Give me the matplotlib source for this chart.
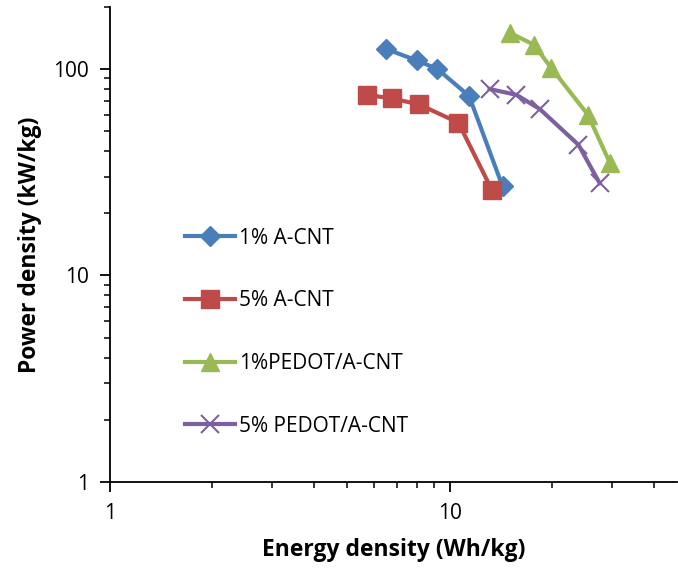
import matplotlib.pyplot as plt
from matplotlib.ticker import LogLocator, NullFormatter, FixedLocator, FixedFormatter

plt.rcParams['font.family'] = ['Open Sans', 'DejaVu Sans']

# Energy density (Wh/kg) and power density (kW/kg)
e_1cnt = [6.5, 8.0, 9.2, 11.4, 14.3]
p_1cnt = [125, 110, 100, 74, 27]

e_5cnt = [5.7, 6.75, 8.1, 10.6, 13.3]
p_5cnt = [75, 72, 67.5, 55, 26]

e_1pedot = [15.0, 17.7, 19.9, 25.5, 29.6]
p_1pedot = [150, 131, 101, 60, 35]

e_5pedot = [13.1, 15.7, 18.4, 23.9, 27.6]
p_5pedot = [80, 75, 64, 43, 28]

fig = plt.figure(figsize=(6.78, 5.73), dpi=100)
ax = fig.add_axes([0.162, 0.159, 0.836, 0.829])

ax.plot(e_1cnt, p_1cnt, color='#4A7EBB', lw=3, marker='D', ms=10, label='1% A-CNT')
ax.plot(e_5cnt, p_5cnt, color='#BE4B48', lw=3, marker='s', ms=13, label='5% A-CNT')
ax.plot(e_1pedot, p_1pedot, color='#98B954', lw=3, marker='^', ms=13, label='1%PEDOT/A-CNT')
ax.plot(e_5pedot, p_5pedot, color='#7D60A0', lw=3, marker='x', ms=13, mew=1.5,
        label='5% PEDOT/A-CNT')

ax.set_xscale('log')
ax.set_yscale('log')
ax.set_xlim(1, 46.5)
ax.set_ylim(1, 200)

for s in ['top', 'right']:
    ax.spines[s].set_visible(False)
for s in ['left', 'bottom']:
    ax.spines[s].set_linewidth(1.3)

ax.xaxis.set_major_locator(FixedLocator([1, 10]))
ax.xaxis.set_major_formatter(FixedFormatter(['1', '10']))
ax.yaxis.set_major_locator(FixedLocator([1, 10, 100]))
ax.yaxis.set_major_formatter(FixedFormatter(['1', '10', '100']))
ax.xaxis.set_minor_locator(LogLocator(base=10, subs=range(2, 10)))
ax.yaxis.set_minor_locator(LogLocator(base=10, subs=range(2, 10)))
ax.xaxis.set_minor_formatter(NullFormatter())
ax.yaxis.set_minor_formatter(NullFormatter())
ax.tick_params(which='major', length=7, width=1.3, labelsize=15, pad=8)
ax.tick_params(which='minor', length=4, width=1.1)

ax.set_xlabel('Energy density (Wh/kg)', fontsize=16.5, fontweight='bold', labelpad=10)
ax.set_ylabel('Power density (kW/kg)', fontsize=16.5, fontweight='bold', labelpad=8)

ax.legend(loc='upper left', bbox_to_anchor=(0.10, 0.575), frameon=False, fontsize=15,
          handlelength=2.4, labelspacing=2.0, handletextpad=0.2)

plt.savefig('out.png', dpi=100)
